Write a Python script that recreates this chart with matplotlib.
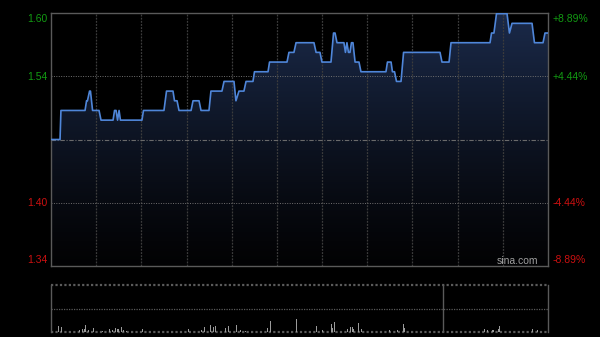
import matplotlib
matplotlib.use("Agg")
import matplotlib.pyplot as plt
import numpy as np
from matplotlib.patches import Polygon

plt.rcParams["font.family"] = ["Liberation Sans", "DejaVu Sans"]

# previous close and trading session (minutes from 9:30, lunch removed)
PREV_CLOSE = 1.47
SESSION_MIN = 330

# intraday price, minutes vs price
price_t = [0, 6.0, 6.6, 22.6, 23.6, 24.2, 25.6, 26.2, 27.6, 31.9, 33.2, 41.2,
           42.2, 43.2, 44.2, 45.2, 46.1, 60.4, 61.4, 75.0, 76.7, 81.0, 82.0,
           83.7, 85.0, 93.0, 94.3, 98.3, 99.6, 104.9, 106.2, 113.5, 114.9,
           121.5, 122.8, 124.8, 128.1, 129.5, 134.1, 135.1, 144.1, 145.1,
           156.7, 158.0, 161.3, 162.7, 174.6, 176.0, 178.6, 179.9, 185.9,
           187.6, 188.6, 189.9, 194.5, 195.5, 196.5, 197.5, 198.5, 199.5,
           200.5, 201.9, 204.5, 205.8, 222.4, 223.4, 225.8, 226.7, 228.1,
           229.4, 232.4, 234.1, 258.3, 259.6, 264.3, 265.6, 291.5, 292.5,
           294.1, 295.8, 302.8, 304.4, 306.1, 319.4, 321.0, 326.7, 328.0, 330]
price_p = [1.47, 1.47, 1.50, 1.50, 1.51, 1.51, 1.52, 1.52, 1.50, 1.50, 1.49, 1.49,
           1.50, 1.50, 1.49, 1.50, 1.49, 1.49, 1.50, 1.50, 1.52, 1.52, 1.51,
           1.51, 1.50, 1.50, 1.51, 1.51, 1.50, 1.50, 1.52, 1.52, 1.53,
           1.53, 1.51, 1.52, 1.52, 1.53, 1.53, 1.54, 1.54, 1.55,
           1.55, 1.56, 1.56, 1.57, 1.57, 1.56, 1.56, 1.55, 1.55,
           1.58, 1.58, 1.57, 1.57, 1.56, 1.57, 1.56, 1.56, 1.57,
           1.57, 1.55, 1.55, 1.54, 1.54, 1.55, 1.55, 1.54, 1.54,
           1.53, 1.53, 1.56, 1.56, 1.55, 1.55, 1.57, 1.57, 1.58,
           1.58, 1.60, 1.60, 1.58, 1.59, 1.59, 1.57, 1.57, 1.58, 1.58]

# volume bars (relative heights)
vol_t = [5, 7, 19, 21, 22, 23, 25, 28, 34, 39, 41, 43, 44, 45, 47, 48, 50, 61,
         77, 91, 100, 102, 106, 108, 109, 116, 118, 123, 126, 129, 144, 146,
         158, 163, 166, 170, 176, 180, 186, 187, 188, 197, 199, 200, 201, 204,
         206, 225, 230, 234, 235, 288, 290, 293, 294, 297, 298, 320, 323]
vol_h = [5.7, 5.0, 2.3, 3.3, 3.0, 6.7, 1.7, 4.0, 1.0, 3.3, 2.3, 4.0, 2.7, 3.3,
         5.0, 1.7, 1.0, 3.3, 4.3, 3.3, 1.7, 5.0, 6.7, 5.0, 5.7, 4.3, 5.7, 6.7,
         1.7, 1.0, 4.0, 10.7, 9.7, 12.7, 1.0, 2.3, 5.7, 2.3, 7.7, 4.3, 9.7,
         3.3, 5.0, 4.7, 3.3, 9.0, 2.7, 1.7, 2.3, 8.0, 4.0, 3.3, 2.3, 1.7, 2.3,
         3.3, 6.0, 3.3, 2.3]
VOL_MARKER_T = 260.5

left_labels = ["1.60", "1.54", "1.40", "1.34"]
right_labels = ["+8.89%", "+4.44%", "-4.44%", "-8.89%"]
label_pos = [0.976, 0.747, 0.249, 0.024]
label_colors = ["#129a12", "#129a12", "#cc1010", "#cc1010"]

GREY = "#5a5a5a"

fig = plt.figure(figsize=(6, 3.37), dpi=100, facecolor="black")
ax = fig.add_axes([51 / 600, 1 - 266 / 337, 497 / 600, 253 / 337])
vax = fig.add_axes([51 / 600, 1 - 332 / 337, 497 / 600, 47 / 337])

ymin, ymax = PREV_CLOSE * (1 - 0.0889), PREV_CLOSE * (1 + 0.0889)
ax.set_facecolor("black")
ax.set_xlim(0, SESSION_MIN)
ax.set_ylim(ymin, ymax)

# gradient fill under the price line
grad = np.linspace(0, 1, 256).reshape(-1, 1)
top_c = np.array([0.105, 0.165, 0.29])
bot_c = np.array([0.01, 0.01, 0.015])
img = bot_c + (top_c - bot_c) * grad[..., None] ** 1.2
img = img[::-1]
im = ax.imshow(img, extent=[0, SESSION_MIN, ymin, ymax], aspect="auto",
               origin="upper", zorder=1)
poly = Polygon(np.column_stack([[0] + price_t + [SESSION_MIN],
                                [ymin] + price_p + [ymin]]),
               closed=True, facecolor="none", edgecolor="none")
ax.add_patch(poly)
im.set_clip_path(poly)

# grid
for t in range(30, SESSION_MIN, 30):
    ax.axvline(t, color="#3c3c3c", lw=0.9, ls=(0, (1.5, 1)), zorder=2)
for lvl in (PREV_CLOSE * 1.0444, PREV_CLOSE * 0.9556):
    ax.axhline(lvl, color="#707070", lw=0.7, ls=(0, (1, 1.5)), zorder=2)
ax.axhline(PREV_CLOSE, color="#6a6a6a", lw=0.8, ls=(0, (4, 1.5, 1, 1.5)), zorder=2)

ax.plot(price_t, price_p, color="#4f86d9", lw=1.2, zorder=3)

for s in ax.spines.values():
    s.set_color(GREY)
    s.set_linewidth(1)
ax.set_xticks([])
ax.set_yticks([])

for lab, rlab, pos, c in zip(left_labels, right_labels, label_pos, label_colors):
    ax.text(-0.008, pos, lab, transform=ax.transAxes, ha="right", va="center",
            color=c, fontsize=7.5)
    ax.text(1.009, pos, rlab, transform=ax.transAxes, ha="left", va="center",
            color=c, fontsize=7.5)
ax.text(0.98, 0.02, "sina.com", transform=ax.transAxes, ha="right", va="center",
        color="#a0a0a0", fontsize=7.5)

# volume panel
vax.set_facecolor("black")
vax.set_xlim(0, SESSION_MIN)
vax.set_ylim(0, 47)
vax.bar(vol_t, vol_h, width=0.6, color="#9a9a9a", zorder=3)
vax.axhline(23.5, color=GREY, lw=0.9, ls=(0, (1, 1)))
vax.axhline(47, color=GREY, lw=1.6, ls=(0, (1, 1)), clip_on=False)
vax.axhline(0.3, color=GREY, lw=1.6, ls=(0, (1, 1)), clip_on=False)
vax.axvline(VOL_MARKER_T, color=GREY, lw=1)
for k in ("top", "bottom"):
    vax.spines[k].set_visible(False)
for k in ("left", "right"):
    vax.spines[k].set_color(GREY)
    vax.spines[k].set_linewidth(1)
vax.set_xticks([])
vax.set_yticks([])

fig.savefig("out.png", dpi=100, facecolor="black")
